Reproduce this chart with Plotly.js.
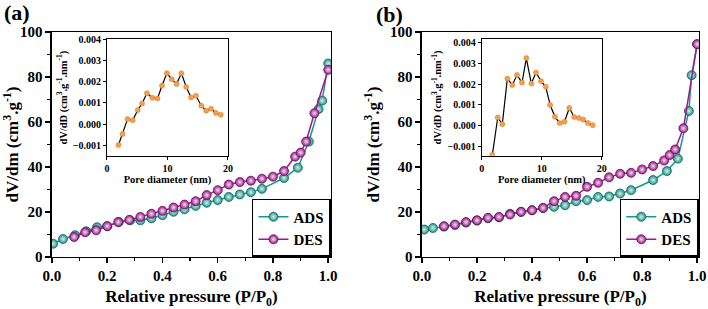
<!DOCTYPE html>
<html><head><meta charset="utf-8">
<script src="https://cdn.plot.ly/plotly-3.0.1.min.js"></script>
<style>body{margin:0;background:#fff}#c{width:708px;height:309px}</style>
</head><body><div id="c"></div>
<script>
// Panel (a) isotherm
const aAdsX = [0.004,0.04,0.084,0.124,0.163,0.2,0.242,0.283,0.32,0.36,0.40,0.44,0.48,0.52,0.56,0.60,0.64,0.68,0.72,0.76,0.84,0.89,0.93,0.965,0.978,1.0];
const aAdsY = [5.9,8.0,9.7,11.4,13.2,13.7,15.6,16.3,16.3,17.2,18.6,20.1,21.2,22.7,24.1,25.3,26.7,27.8,28.8,30.3,35.1,39.7,51.3,65.7,69.5,86.0];
const aDesX = [0.08,0.12,0.16,0.2,0.24,0.28,0.32,0.36,0.40,0.44,0.48,0.52,0.56,0.60,0.64,0.68,0.72,0.76,0.80,0.84,0.88,0.90,0.92,0.95,1.0];
const aDesY = [8.9,11.0,11.9,13.7,15.5,16.5,17.8,19.2,20.5,22.0,23.3,24.8,27.5,29.7,32.2,33.3,33.9,34.8,35.7,38.2,44.6,46.4,51.3,63.9,83.2];
// Panel (a) inset PSD
const aPsdX = [1.9,2.57,3.4,4.25,5.1,5.8,6.6,7.5,8.35,9.1,9.9,10.7,11.5,12.3,13.1,13.9,14.7,15.6,16.4,17.2,18.0,18.8];
const aPsdY = [-0.00098,-0.00046,0.00024,0.00018,0.00067,0.00098,0.00146,0.00124,0.00121,0.00182,0.0024,0.00212,0.00189,0.0024,0.00175,0.00126,0.00134,0.00087,0.00063,0.00073,0.00053,0.00045];
// Panel (b) isotherm
const bAdsX = [0.008,0.04,0.08,0.12,0.16,0.2,0.24,0.28,0.32,0.36,0.40,0.44,0.48,0.52,0.56,0.60,0.64,0.68,0.72,0.76,0.84,0.89,0.93,0.97,0.98,1.0];
const bAdsY = [12.2,12.9,13.5,14.2,15.3,16.2,17.2,17.6,19.2,20.0,20.8,21.8,22.3,23.0,24.8,25.3,26.7,26.9,28.2,29.7,34.2,38.2,43.7,64.9,80.8,94.6];
const bDesX = [0.08,0.12,0.16,0.2,0.24,0.28,0.32,0.36,0.40,0.44,0.48,0.52,0.56,0.60,0.64,0.68,0.72,0.76,0.80,0.84,0.88,0.90,0.92,0.95,1.0];
const bDesY = [13.7,14.4,15.5,16.3,17.4,17.8,18.9,20.1,20.8,21.8,24.8,26.7,27.2,31.2,33.0,35.4,37.0,37.4,38.9,40.4,42.9,45.3,47.8,57.2,94.6];
// Panel (b) inset PSD
const bPsdX = [1.77,2.67,3.43,4.27,5.1,5.88,6.72,7.43,8.27,9.05,9.88,10.67,11.4,12.2,13.0,13.8,14.6,15.4,16.2,16.9,17.7,18.5];
const bPsdY = [-0.00139,0.0004,0.00008,0.00226,0.00195,0.00243,0.00207,0.00324,0.00202,0.00255,0.00214,0.00187,0.001,0.00043,0.00013,0.0002,0.00085,0.00042,0.00037,0.0003,0.00013,0.00003];

const TEAL='#15998b', PURP='#a3168f', ORANGE='#f6a04d';
const SERIF='Liberation Serif, serif';
function iso(x,y,name,color,xa,ya,leg,dark){
  return {x:x,y:y,name:name,type:'scatter',mode:'lines+markers',xaxis:xa,yaxis:ya,legend:leg,
    line:{color:color,width:1.5},
    marker:{size:9,color:color,line:{color:dark,width:0.8},gradient:{type:'radial',color:'#e8e8e8'}}};
}
function psd(x,y,xa,ya){
  return {x:x,y:y,type:'scatter',mode:'lines+markers',xaxis:xa,yaxis:ya,showlegend:false,
    line:{color:'#000',width:1.2},
    marker:{size:5,color:ORANGE,line:{color:'#d9802a',width:0.6}}};
}
const data=[
  iso(aAdsX,aAdsY,'ADS',TEAL,'x','y','legend','#0b6a5f'),
  iso(aDesX,aDesY,'DES',PURP,'x','y','legend','#6e0b60'),
  iso(bAdsX,bAdsY,'ADS',TEAL,'x2','y2','legend2','#0b6a5f'),
  iso(bDesX,bDesY,'DES',PURP,'x2','y2','legend2','#6e0b60'),
  psd(aPsdX,aPsdY,'x3','y3'),
  psd(bPsdX,bPsdY,'x4','y4')
];
const tf={family:SERIF,size:15,color:'#000',weight:'bold'};
const tfi={family:SERIF,size:10,color:'#000',weight:'bold'};
function mainX(dom,anchor,rng){
  return {domain:dom,anchor:anchor,range:rng,dtick:0.2,tick0:0,tickformat:'.1f',showline:true,mirror:true,
    linecolor:'#000',linewidth:1.5,ticks:'outside',ticklen:5,tickwidth:1.5,tickcolor:'#000',
    minor:{dtick:0.1,ticks:'outside',ticklen:3,tickwidth:1.2,tickcolor:'#000'},
    showgrid:false,zeroline:false,tickfont:tf,
    title:{text:'Relative pressure (P/P<sub>0</sub>)',font:{family:SERIF,size:17,color:'#000',weight:'bold'},standoff:8}};
}
function mainY(dom,anchor){
  return {domain:dom,anchor:anchor,range:[0,100],dtick:20,showline:true,mirror:true,
    linecolor:'#000',linewidth:1.5,ticks:'outside',ticklen:5,tickwidth:1.5,tickcolor:'#000',
    minor:{dtick:10,ticks:'outside',ticklen:3,tickwidth:1.2,tickcolor:'#000'},
    showgrid:false,zeroline:false,tickfont:tf,
    title:{text:'dV/dm (cm<sup>3</sup>.g<sup>-1</sup>)',font:{family:SERIF,size:17,color:'#000',weight:'bold'},standoff:6}};
}
function insX(dom,anchor){
  return {domain:dom,anchor:anchor,range:[0,20],dtick:10,showline:true,mirror:true,linecolor:'#000',linewidth:1,
    ticks:'outside',ticklen:3,tickcolor:'#000',showgrid:false,zeroline:false,tickfont:tfi,
    title:{text:'Pore diameter (nm)',font:{family:SERIF,size:10.5,color:'#000',weight:'bold'},standoff:1}};
}
function insY(dom,anchor,rng){
  return {domain:dom,anchor:anchor,range:rng,dtick:0.001,tick0:0,tickformat:'.3f',showline:true,mirror:true,
    linecolor:'#000',linewidth:1,ticks:'outside',ticklen:3,tickcolor:'#000',showgrid:false,zeroline:false,tickfont:tfi,
    title:{text:'dV/dD (cm<sup>3</sup>.g<sup>-1</sup>.nm<sup>-1</sup>)',font:{family:SERIF,size:10.5,color:'#000',weight:'bold'},standoff:3}};
}
const legFont={family:SERIF,size:15,color:'#000',weight:'bold'};
const yd=[0.1683,0.8964];
const layout={
  width:708,height:309,margin:{l:0,r:0,t:0,b:0},paper_bgcolor:'#fff',plot_bgcolor:'rgba(0,0,0,0)',
  font:{family:SERIF},
  xaxis:mainX([0.0734,0.4675],'y',[0,1.01]),
  yaxis:mainY(yd,'x'),
  xaxis2:mainX([0.596,0.987],'y2',[0,1.006]),
  yaxis2:mainY(yd,'x2'),
  xaxis3:insX([0.1511,0.322],'y3'),
  yaxis3:insY([0.4951,0.8728],'x3',[-0.0015,0.004]),
  xaxis4:insX([0.6804,0.8499],'y4'),
  yaxis4:insY([0.4961,0.8728],'x4',[-0.00143,0.00414]),
  legend:{x:0.4675,xanchor:'right',y:0.1683,yanchor:'bottom',bgcolor:'#fff',bordercolor:'#000',borderwidth:1.5,
    font:legFont,tracegroupgap:0,itemwidth:30},
  legend2:{x:0.987,xanchor:'right',y:0.1683,yanchor:'bottom',bgcolor:'#fff',bordercolor:'#000',borderwidth:1.5,
    font:legFont,tracegroupgap:0,itemwidth:30},
  annotations:[
    {text:'(a)',xref:'paper',yref:'paper',x:0.003,y:1.005,xanchor:'left',yanchor:'top',showarrow:false,
      font:{family:SERIF,size:22,color:'#000',weight:'bold'}},
    {text:'(b)',xref:'paper',yref:'paper',x:0.528,y:1.0,xanchor:'left',yanchor:'top',showarrow:false,
      font:{family:SERIF,size:22,color:'#000',weight:'bold'}}
  ],
  showlegend:true
};
Plotly.newPlot('c',data,layout,{staticPlot:true,displayModeBar:false});
</script></body></html>
